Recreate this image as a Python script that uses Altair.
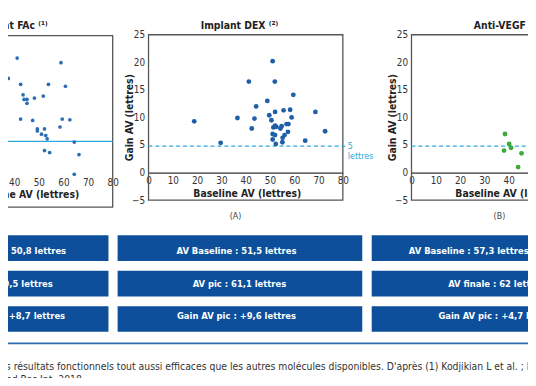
import altair as alt
import pandas as pd

W, H = 528, 370
FONT = "DejaVu Sans Condensed, Liberation Sans Narrow, Roboto, sans-serif"

# ---------------- data ----------------
fac_baseline = [41.2, 59.0, 37.6, 42.6, 53.9, 60.8, 43.6, 51.8, 48.2, 44.0, 45.2, 45.2,
                42.6, 47.5, 59.5, 62.6, 52.3, 58.6, 49.4, 49.4, 51.1, 52.8, 53.4, 64.4,
                52.3, 54.4, 66.3, 64.4]
fac_gain = [17.7, 17.0, 14.6, 13.7, 13.7, 13.4, 12.1, 11.9, 11.6, 11.4, 11.4, 10.8,
            8.4, 8.2, 8.4, 8.3, 6.9, 7.2, 6.9, 6.6, 6.1, 5.9, 5.4, 4.9,
            3.6, 3.3, 3.0, 0.0]

dex_baseline = [18.8, 29.7, 36.6, 41.3, 42.5, 43.6, 44.3, 48.9, 49.7, 50.6, 51.1, 52.0,
                52.1, 51.4, 52.1, 52.6, 51.1, 52.1, 51.1, 52.4, 54.3, 54.8, 55.6, 55.2,
                55.1, 56.0, 56.8, 57.4, 57.6, 58.3, 58.9, 59.6, 64.5, 68.7, 72.7]
dex_gain = [9.3, 5.4, 9.9, 16.5, 8.0, 9.8, 12.0, 13.0, 10.4, 9.5, 20.2, 16.5,
            11.0, 8.2, 8.5, 8.3, 7.0, 6.8, 6.0, 5.2, 8.0, 8.4, 11.3, 6.3,
            5.5, 6.8, 8.8, 7.4, 8.8, 11.4, 10.0, 14.1, 5.8, 11.0, 7.5]

vegf_baseline = [38.5, 38.1, 40.2, 41.0, 45.3, 43.9]
vegf_gain = [7.0, 4.0, 5.2, 4.5, 3.5, 1.0]

x_ticks = [0, 10, 20, 30, 40, 50, 60, 70, 80]
y_ticks = [-5, 0, 5, 10, 15, 20, 25]
threshold = [5.0, 4.8, 4.8]

panel_titles = ["Implant FAc \u207d\u00b9\u207e", "Implant DEX \u207d\u00b2\u207e", "Anti-VEGF \u207d\u00b2\u207e"]
x_title = "Baseline AV (lettres)"
y_title = "Gain AV (lettres)"

row_names = ["baseline", "pic", "gain"]
box_texts = {
    "fac": ["AV Baseline : 50,8 lettres", "AV pic : 59,5 lettres", "Gain AV pic : +8,7 lettres"],
    "dex": ["AV Baseline : 51,5 lettres", "AV pic : 61,1 lettres", "Gain AV pic : +9,6 lettres"],
    "vegf": ["AV Baseline : 57,3 lettres", "AV finale : 62 lettres", "Gain AV pic : +4,7 lettres"],
}
caption1 = ("es résultats fonctionnels tout aussi efficaces que les autres molécules disponibles. "
            "D'après (1) Kodjikian L et al. ; Ph")
caption2 = "ned Res Int. 2018."

# ---------------- geometry (pixel ranges of each panel) ----------------
P = {
    "fac": dict(xr=[-93.7, 106.3], yd=[-5, 21.1], yr=[199.3, 25.3]),
    "dex": dict(xr=[142.7, 340.0], yd=[-5, 25], yr=[192.3, 24.3]),
    "vegf": dict(xr=[409.7, 607.0], yd=[-5, 25], yr=[192.3, 24.3]),
}

BLUE_DOT = "#1f5fa8"
GREEN_DOT = "#3aaa3a"
CYAN = "#2aa9e0"
FRAME = "#555555"
BOX = "#0d4f9a"


def xs(p):
    return alt.Scale(domain=[0, 80], range=P[p]["xr"], nice=False, zero=False)


def ys(p):
    return alt.Scale(domain=P[p]["yd"], range=P[p]["yr"], nice=False, zero=False)


def x_axis(p, axis_y, title_x, show_domain=True):
    return alt.Axis(orient="bottom", offset=axis_y - H, values=x_ticks, grid=False,
                    ticks=False, tickSize=0, labelPadding=3, labelFlush=False,
                    labelOverlap=False, labelFontSize=10, labelColor="#333",
                    labelFont=FONT, domain=show_domain, domainColor="#333",
                    domainWidth=1.3, title=x_title, titleX=title_x, titleY=21,
                    titleBaseline="middle", titleAlign="center", titleFont=FONT,
                    titleFontSize=10.5, titleFontWeight="bold", titleColor="#222")


def y_axis(axis_x):
    return alt.Axis(orient="left", offset=-axis_x, values=y_ticks, grid=False,
                    ticks=False, tickSize=0, labelPadding=4, labelFlush=False,
                    labelOverlap=False, labelFontSize=10, labelColor="#333",
                    labelFont=FONT, domain=False, title=y_title, titleX=-19,
                    titleY=108, titleAngle=-90, titleBaseline="middle",
                    titleAlign="center", titleFont=FONT, titleFontSize=10.5,
                    titleFontWeight="bold", titleColor="#222")


layers = []

# frames
for p in ["fac", "dex", "vegf"]:
    fdf = pd.DataFrame({"x0": [0], "x1": [80], "y0": [P[p]["yd"][0]], "y1": [P[p]["yd"][1]]})
    layers.append(
        alt.Chart(fdf).mark_rect(filled=False, stroke=FRAME, strokeWidth=1.3).encode(
            x=alt.X("x0:Q", scale=xs(p), axis=None), x2="x1:Q",
            y=alt.Y("y0:Q", scale=ys(p), axis=None), y2="y1:Q"))

# threshold lines
thr_specs = [("fac", 80, None), ("dex", 81, [4, 3]), ("vegf", 80, [4, 3])]
for (p, xend, dash), t in zip(thr_specs, threshold):
    tdf = pd.DataFrame({"x0": [0], "x1": [xend], "v": [t]})
    mk = dict(color=CYAN, strokeWidth=1.3)
    if dash:
        mk["strokeDash"] = dash
    layers.append(
        alt.Chart(tdf).mark_rule(**mk).encode(
            x=alt.X("x0:Q", scale=xs(p), axis=None), x2="x1:Q",
            y=alt.Y("v:Q", scale=ys(p), axis=None)))

# scatter points with axes
fac_df = pd.DataFrame({"b": fac_baseline, "g": fac_gain})
dex_df = pd.DataFrame({"b": dex_baseline, "g": dex_gain})
vegf_df = pd.DataFrame({"b": vegf_baseline, "g": vegf_gain})

layers.append(
    alt.Chart(fac_df).mark_circle(size=14, color="#2a6db5", opacity=1).encode(
        x=alt.X("b:Q", scale=xs("fac"), axis=x_axis("fac", 166.0, 17, show_domain=False)),
        y=alt.Y("g:Q", scale=ys("fac"), axis=None)))
layers.append(
    alt.Chart(dex_df).mark_circle(size=24, color=BLUE_DOT, opacity=1).encode(
        x=alt.X("b:Q", scale=xs("dex"), axis=x_axis("dex", 164.3, 242.5)),
        y=alt.Y("g:Q", scale=ys("dex"), axis=y_axis(142.7))))
layers.append(
    alt.Chart(vegf_df).mark_circle(size=24, color=GREEN_DOT, opacity=1).encode(
        x=alt.X("b:Q", scale=xs("vegf"), axis=x_axis("vegf", 164.3, 508.5)),
        y=alt.Y("g:Q", scale=ys("vegf"), axis=y_axis(409.7))))

# panel titles
title_style = dict(font=FONT, fontSize=10.5, fontWeight="bold", color="#222", baseline="middle")
for txt, xpos, al in zip(panel_titles, [40.3, 235, 473], ["right", "center", "left"]):
    layers.append(alt.Chart(pd.DataFrame({"t": [txt]})).mark_text(align=al, **title_style).encode(
        text="t:N", x=alt.value(xpos), y=alt.value(15)))

# "5 lettres" annotation
for txt, yy in zip(["5", "lettres"], [137, 147.5]):
    layers.append(alt.Chart(pd.DataFrame({"t": [txt]})).mark_text(
        align="left", baseline="middle", font=FONT, fontSize=9, color=CYAN).encode(
        text="t:N", x=alt.value(345), y=alt.value(yy)))

# (A) (B)
for txt, xx in zip(["(A)", "(B)"], [231, 499]):
    layers.append(alt.Chart(pd.DataFrame({"t": [txt]})).mark_text(
        align="center", baseline="middle", font=FONT, fontSize=9, color="#444").encode(
        text="t:N", x=alt.value(xx), y=alt.value(208)))

# info boxes
row_scale = alt.Scale(domain=row_names, range=[228, 326], paddingInner=0.275, paddingOuter=0)
box_cols = {"fac": (-10, 102), "dex": (111.3, 359.7), "vegf": (369.3, 540)}
text_pos = {
    "fac": ("right", [59, 45.5, 58]),
    "dex": ("center", [232, 235, 232]),
    "vegf": ("left", [407, 447, 437]),
}
for p in ["fac", "dex", "vegf"]:
    bdf = pd.DataFrame({"row": row_names, "t": box_texts[p]})
    x0, x1 = box_cols[p]
    layers.append(alt.Chart(bdf).mark_rect(color=BOX).encode(
        y=alt.Y("row:N", scale=row_scale, axis=None, sort=row_names),
        x=alt.value(x0), x2=alt.value(x1)))
    al, xs_list = text_pos[p]
    for i, r in enumerate(row_names):
        layers.append(alt.Chart(bdf.iloc[[i]]).mark_text(
            align=al, baseline="middle", font=FONT, fontSize=9.5, fontWeight="bold",
            color="white").encode(
            text="t:N", y=alt.Y("row:N", scale=row_scale, axis=None, sort=row_names),
            x=alt.value(xs_list[i])))

# separator and caption
layers.append(alt.Chart(pd.DataFrame({"a": [0]})).mark_rule(color="#2f6db3", strokeWidth=1.6).encode(
    x=alt.value(0), x2=alt.value(W), y=alt.value(337.7)))
for txt, yy in zip([caption1, caption2], [362, 374.7]):
    layers.append(alt.Chart(pd.DataFrame({"t": [txt]})).mark_text(
        align="left", baseline="middle", font=FONT, fontSize=10.5, color="#333").encode(
        text="t:N", x=alt.value(-8), y=alt.value(yy)))

chart = alt.layer(*layers).resolve_scale(
    x="independent", y="independent"
).resolve_axis(
    x="independent", y="independent"
).properties(
    width=W, height=H, padding=0, autosize=alt.AutoSizeParams(type="none")
).configure_view(stroke=None)

chart.save("out.html", embed_options={"renderer": "svg", "actions": False})
